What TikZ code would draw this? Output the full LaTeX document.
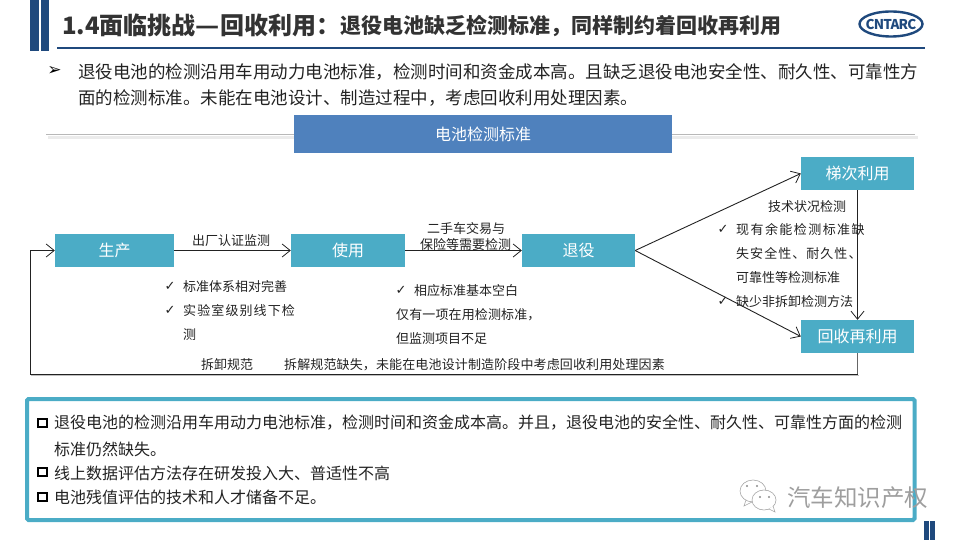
\documentclass[tikz,border=0pt]{standalone}
\usepackage{fontspec}
\setmainfont{Noto Sans CJK SC}
\newfontfamily\symfont{DejaVu Sans}
\usetikzlibrary{arrows.meta,calc}
\definecolor{navy}{HTML}{1F497D}
\definecolor{teal1}{HTML}{4BACC6}
\definecolor{blue1}{HTML}{4F81BD}
\definecolor{ink}{HTML}{222222}
\newcommand{\myfs}[1]{\fontsize{#1}{#1}\selectfont}
\newcommand{\myls}[1]{\addfontfeature{LetterSpace=#1}}
\newcommand{\zcomma}{\symbol{"FF0C}}
\newcommand{\zcolon}{\symbol{"FF1A}}
\tikzset{
  x=1pt,y=-1pt,
  flowbox/.style={fill=teal1,text=white,inner sep=0pt,font=\myfs{16}},
  txt/.style={anchor=west,inner sep=0pt,text=ink,font=\myfs{13}},
  body/.style={anchor=west,inner sep=0pt,text=ink,font=\myfs{17.5}},
  note/.style={anchor=west,inner sep=0pt,text=ink,font=\myfs{16}},
  tick/.style={anchor=center,inner sep=0pt,text=ink,font=\symfont\myfs{13}},
  sq/.style={draw=black,line width=2.1pt,inner sep=0pt,minimum size=8.5pt},
  conn/.style={draw=ink,line width=0.9pt,-{Straight Barb[length=8pt,width=13pt,line width=0.8pt]}},
  bar/.style={fill=navy,draw=none},
}
\begin{document}
\begin{tikzpicture}
\useasboundingbox (0,0) rectangle (960,540);
% header
\fill[bar] (30,0) rectangle (38.5,51);
\fill[bar] (41,0) rectangle (49,51);
\fill[bar] (57,47) rectangle (925,49);
\node[anchor=west,inner sep=0pt,text=black!80,font=\bfseries\myfs{24}] (ttl) at (62,25.5) {1.4面临挑战\scalebox{1.1}[1]{—}回收利用\zcolon};
\node[anchor=west,inner sep=0pt,text=black!80,font=\bfseries\myfs{21}] (sub) at (340,26) {退役电池缺乏检测标准\zcomma 同样制约着回收再利用};
% logo
\draw[navy,line width=2.4pt] (891,24) ellipse [x radius=31.5,y radius=12.5];
\node[inner sep=0pt,text=navy,font=\bfseries\myfs{13.5}] (logo) at (891,24) {\addfontfeature{LetterSpace=-6}CNTARC};
% intro
\node[anchor=center,inner sep=0pt,font=\symfont\myfs{17},text=black] (arr) at (54.5,71) {➢};
\node[body] (l1) at (78,71.5) {退役电池的检测沿用车用动力电池标准\zcomma 检测时间和资金成本高。且缺乏退役电池安全性、耐久性、可靠性方};
\node[body] (l2) at (78,98) {面的检测标准。未能在电池设计、制造过程中\zcomma 考虑回收利用处理因素。};
% divider
\fill[black!8] (48,136) rectangle (918,139.5);
\fill[black!28] (46,134) rectangle (915,135.2);
\node[fill=blue1,text=white,inner sep=0pt,minimum width=378pt,minimum height=38pt,font=\myfs{16}] (hdr) at (483,134) {电池检测标准};
% flow boxes
\node[flowbox,minimum width=119pt,minimum height=33pt] (sc) at (114.5,250.5) {生产};
\node[flowbox,minimum width=114pt,minimum height=33pt] (sy) at (348,250.5) {使用};
\node[flowbox,minimum width=113pt,minimum height=33pt] (ty) at (578.5,250.5) {退役};
\node[flowbox,minimum width=113pt,minimum height=33pt] (td) at (857.5,173.5) {梯次利用};
\node[flowbox,minimum width=113pt,minimum height=33pt] (hs) at (857.5,336.5) {回收再利用};
% connectors
\coordinate (loopR) at (857.5,374);
\coordinate (loopL) at (30.5,374);
\coordinate (loopT) at (30.5,250.5);
\draw[black!25,line width=1pt] (31,375) -- (858.5,375);
\draw[conn] (sc) -- (sy);
\draw[conn] (sy) -- (ty);
\draw[conn] (ty.east) -- (td.west);
\draw[conn] (ty.east) -- (hs.west);
\draw[conn] (td) -- (hs);
\draw[draw=black!60,line width=1pt] (hs.south) -- (loopR);
\draw[conn] (loopR) -- (loopL) -- (loopT) -- (sc.west);
% labels
\node[txt] (a1) at (192,241) {出厂认证监测};
\node[txt] (a2) at (427,229) {二手车交易与};
\node[txt] (a3) at (420,245) {保险等需要检测};
\node[tick] (c1) at (170,286) {✓};
\node[txt] (t1) at (183,287) {标准体系相对完善};
\node[tick] (c2) at (170,310) {✓};
\node[txt] (t2) at (183,311) {\myls{8.5}实验室级别线下检};
\node[txt] (t3) at (183,335) {测};
\node[tick] (c3) at (401,290) {✓};
\node[txt] (u1) at (414,291) {相应标准基本空白};
\node[txt] (u2) at (396,315) {\myls{1}仅有一项在用检测标准\zcomma};
\node[txt] (u3) at (396,339) {但监测项目不足};
\node[txt] (b1) at (201,365) {拆卸规范};
\node[txt] (b2) at (284,365) {\myls{1}拆解规范缺失\zcomma 未能在电池设计制造阶段中考虑回收利用处理因素};
\node[txt] (r0) at (768,207) {技术状况检测};
\node[tick] (c4) at (723,229) {✓};
\node[txt] (r1) at (736,230) {\myls{11}现有余能检测标准缺};
\node[txt] (r2) at (736,254) {\myls{8}失安全性、耐久性、};
\node[txt] (r3) at (736,278) {可靠性等检测标准};
\node[tick] (c5) at (723,301) {✓};
\node[txt] (r4) at (736,302) {缺少非拆卸检测方法};
% bottom box
\draw[teal1,line width=4pt,rounded corners=1.5pt] (27,399) rectangle (914.5,520);
\node[sq] (s1) at (42.5,423) {};
\node[note] (n1) at (54,423) {退役电池的检测沿用车用动力电池标准\zcomma 检测时间和资金成本高。并且\zcomma 退役电池的安全性、耐久性、可靠性方面的检测};
\node[note] (n2) at (54,449) {标准仍然缺失。};
\node[sq] (s2) at (42.5,472) {};
\node[note] (n3) at (54,473) {线上数据评估方法存在研发投入大、普适性不高};
\node[sq] (s3) at (42.5,497) {};
\node[note] (n4) at (54,497) {电池残值评估的技术和人才储备不足。};
% watermark
\draw[black!35,line width=0.6pt,fill=white] (753,491) ellipse [x radius=13,y radius=11];
\draw[black!35,line width=0.6pt] (746,500) -- (744,506) -- (752,502);
\draw[black!35,line width=0.6pt,fill=white] (764,500) ellipse [x radius=12,y radius=10];
\draw[black!35,line width=0.6pt,fill=white] (769,509) -- (775,512) -- (773,506);
\fill[black!45] (747,486) circle (1.2) (757,486) circle (1.2) (760,497) circle (1.1) (769,497) circle (1.1);
\node[anchor=west,inner sep=0pt,text=black!38,font=\myfs{23.5}] (wm) at (787,498) {汽车知识产权};
% footer bars
\fill[bar] (924,521) rectangle (928.5,540);
\fill[bar] (930,521) rectangle (935,540);
\end{tikzpicture}
\end{document}
